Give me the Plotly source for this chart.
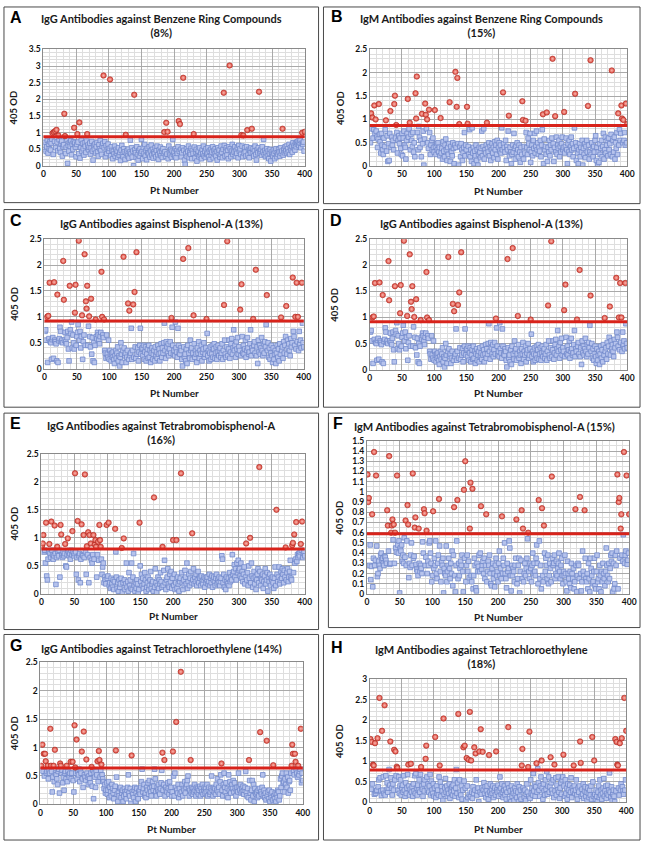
import plotly.graph_objects as go


def od(s):
    return [int(v) / 100 for v in s.split() if v != "|"]


# ---------------- DATA ----------------
panel_letters = ["A", "B", "C", "D", "E", "F", "G", "H"]
panel_titles = [
    "IgG Antibodies against Benzene Ring Compounds<br>(8%)",
    "IgM Antibodies against Benzene Ring Compounds<br>(15%)",
    "IgG Antibodies against Bisphenol-A (13%)",
    "IgG Antibodies against Bisphenol-A (13%)",
    "IgG Antibodies against Tetrabromobisphenol-A<br>(16%)",
    "IgM Antibodies against Tetrabromobisphenol-A (15%)",
    "IgG Antibodies against Tetrachloroethylene (14%)",
    "IgM Antibodies against Tetrachloroethylene<br>(18%)",
]
y_axis_max = [3.5, 2.5, 2.5, 2.5, 2.5, 1.5, 2.5, 3]
y_tick_step = [0.5, 0.5, 0.5, 0.5, 0.5, 0.1, 0.5, 0.5]
y_minor_step = [0.1, 0.1, 0.1, 0.1, 0.1, 0.05, 0.1, 0.1]
cutoff_od = [0.88, 0.87, 0.92, 0.92, 0.80, 0.59, 0.64, 0.79]
x_axis_max = 400
x_tick_step = 50
x_minor_step = 10
x_title = "Pt Number"
y_title = "405 OD"

# patient OD values (1..400), positives listed separately
A_od = od("""
50 62 71 44 58 77 39 66 52 73 | 48 69 81 57 35 63 74 25 55 68 | 72 46 60 79 53 41 67 75 30 58 | 64 49 70 38 56 80 08 62 45 71 | 59 76 34 66 51 73 42 69 57 28
65 48 72 37 61 24 55 78 44 68 | 52 33 70 59 41 75 27 63 49 57 | 69 36 54 74 45 18 62 50 66 39 | 58 71 43 30 64 52 77 47 35 60 | 68 42 55 73 28 61 38 50 66 45
53 40 31 58 47 22 44 36 60 29 | 50 38 45 26 55 33 41 17 48 62 | 35 28 52 43 20 57 39 46 30 51 | 24 42 78 37 55 27 45 01 33 49 | 40 26 58 35 18 47 30 52 39 80
44 22 56 38 65 30 47 19 53 40 | 36 58 27 45 63 33 50 24 42 37 | 55 28 46 60 34 20 48 39 57 31 | 45 26 52 38 81 43 29 55 36 48 | 22 60 40 33 50 27 45 80 35 42
30 52 25 46 38 58 20 44 35 50 | 28 40 55 32 47 18 05 38 52 29 | 44 60 25 41 35 53 22 47 38 30 | 57 24 42 50 15 36 45 28 55 33 | 40 22 48 37 60 30 44 26 52 35
38 55 28 45 20 50 33 42 58 25 | 47 36 52 30 44 18 55 39 48 27 | 35 60 42 25 50 38 62 30 45 55 | 33 48 22 58 40 52 28 45 65 35 | 50 42 58 30 47 38 55 25 62 44
52 35 45 60 28 48 38 55 42 30 | 58 45 33 50 25 47 40 55 12 38 | 52 30 45 60 35 18 48 40 55 28 | 45 38 50 32 58 42 80 35 47 28 | 40 52 30 45 22 38 50 15 42 35
30 48 38 22 45 52 28 40 35 50 | 42 30 55 38 45 62 33 50 40 58 | 45 60 38 52 42 65 35 55 48 60 | 42 70 55 62 48 68 58 72 65 75 | 62 70 78 55 68 80 65 72 45 75
""")
A_pos = [(14, 0.99), (16, 1.02), (18, 1.05), (20, 1.09), (23, 0.92), (32, 1.57), (33, 0.90),
         (47, 1.15), (52, 0.96), (55, 1.31), (67, 0.96), (92, 2.72), (102, 2.60), (126, 0.94),
         (139, 2.14), (185, 1.02), (188, 1.30), (190, 1.03), (207, 1.35), (209, 1.26), (214, 2.65),
         (230, 0.96), (276, 2.20), (285, 3.02), (303, 0.93), (306, 0.92), (312, 1.08), (319, 1.12),
         (330, 2.23), (366, 1.12), (396, 1.00), (400, 1.03)]

B_od = od("""
50 65 80 72 60 78 55 70 45 75 | 62 40 58 30 68 52 28 70 45 35 | 25 60 42 78 55 32 65 10 48 12 | 70 58 40 62 45 55 35 68 50 60 | 42 72 28 55 65 48 60 38 25 70
22 60 75 45 40 15 55 70 38 62 | 80 48 35 68 55 42 72 30 50 20 | 78 60 45 72 35 85 62 40 55 20 | 70 48 75 02 58 65 42 80 22 50 | 38 62 72 25 45 55 35 60 40 30
55 42 25 48 35 50 30 40 22 45 | 28 38 15 52 32 20 45 58 35 12 | 40 25 48 35 10 42 30 22 50 38 | 05 45 28 40 18 35 48 02 30 42 | 20 48 35 12 28 40 72 22 45 35
30 15 42 25 78 20 35 10 82 28 | 40 05 32 22 45 12 35 02 25 40 | 30 18 38 75 22 42 80 15 35 28 | 45 20 38 30 50 22 42 12 35 48 | 28 40 18 52 35 45 25 55 15 40
50 32 45 28 82 35 22 48 40 30 | 55 12 42 35 75 48 22 40 30 05 | 25 45 30 70 38 15 42 28 50 35 | 20 45 30 08 40 25 50 32 15 42 | 28 35 72 40 25 60 48 35 70 08
30 45 22 55 38 70 28 42 75 35 | 50 25 40 32 55 20 45 78 30 05 | 58 35 42 25 62 10 40 30 55 22 | 45 35 60 25 48 10 40 55 30 62 | 25 45 38 55 20 42 30 48 62 35
40 55 28 42 60 35 05 48 30 55 | 25 42 62 35 48 20 38 82 30 50 | 12 42 28 05 35 48 20 40 30 55 | 02 38 25 48 18 42 55 30 22 45 | 15 30 45 25 50 38 20 42 30 55
65 12 40 02 30 08 48 25 38 55 | 20 42 70 15 35 62 28 45 55 22 | 60 35 48 25 68 40 20 55 30 62 | 15 50 38 72 25 60 45 78 55 70 | 42 62 50 68 55 72 45 60 50 68
""")
B_pos = [(2, 1.13), (4, 1.04), (7, 1.30), (9, 1.00), (14, 1.33), (25, 0.98), (32, 1.18), (38, 1.33),
         (39, 1.51), (41, 0.88), (59, 1.44), (62, 0.93), (71, 1.56), (72, 1.02), (73, 1.92), (81, 1.12),
         (86, 1.34), (87, 1.10), (89, 1.00), (92, 1.21), (101, 1.20), (110, 1.03), (124, 1.37),
         (133, 2.02), (135, 1.27), (136, 1.89), (139, 0.90), (151, 1.27), (152, 0.91), (182, 0.93),
         (207, 1.58), (216, 1.08), (237, 1.39), (238, 0.99), (242, 0.97), (269, 1.11), (275, 1.15),
         (284, 2.30), (288, 1.07), (302, 1.16), (319, 1.55), (339, 1.29), (343, 2.27), (376, 2.05),
         (386, 1.13), (391, 1.30), (392, 1.02), (394, 0.99), (398, 1.34), (400, 0.90)]

C_od = od("""
72 75 55 60 12 55 58 68 52 50 | 18 56 60 20 37 55 52 48 15 50 | 12 54 58 80 72 52 55 50 62 58 | 55 70 52 48 60 72 38 15 42 75 | 68 90 40 65 50 38 66 15 45 62
70 85 60 55 72 40 62 28 18 52 | 65 70 45 58 25 55 45 82 48 62 | 42 55 28 60 15 50 12 45 68 62 | 58 70 65 55 48 62 70 72 50 65 | 60 15 35 30 20 65 28 22 55 18
35 28 15 30 22 32 18 10 25 35 | 20 30 42 15 25 05 22 50 28 12 | 35 18 40 25 30 12 22 35 28 18 | 40 25 30 78 18 35 00 22 30 42 | 20 72 28 40 15 32 45 78 28 38
40 25 45 18 32 42 15 28 38 20 | 45 22 35 12 30 40 18 28 35 15 | 42 25 32 20 45 28 38 15 30 48 | 22 40 30 50 88 35 20 52 42 30 | 48 25 38 52 30 22 80 45 28 35
25 90 40 32 22 78 45 30 28 40 | 35 18 05 30 42 22 28 15 38 10 | 45 25 30 20 55 35 40 18 30 58 | 48 22 35 28 12 40 30 52 20 35 | 28 45 15 32 38 50 22 28 40 30
68 25 35 15 30 42 18 28 45 22 | 38 48 20 30 42 18 32 45 25 35 | 40 22 30 48 18 35 62 55 28 22 | 42 30 25 38 55 20 32 48 58 28 | 40 75 35 45 22 52 38 60 28 42
35 48 25 40 62 30 45 28 38 55 | 22 35 60 40 28 32 48 75 25 40 | 35 28 45 52 30 38 25 42 10 55 | 32 45 28 40 60 35 25 48 30 52 | 42 85 28 35 50 22 40 18 30 45
25 12 40 18 28 35 10 30 45 22 | 38 15 48 28 85 35 42 20 52 30 | 45 62 38 28 55 40 48 35 25 58 | 42 50 30 72 62 45 55 38 68 52 | 60 35 72 48 55 40 65 88 50 42
""")
C_pos = [(4, 1.00), (6, 1.02), (8, 1.66), (15, 1.67), (20, 1.43), (29, 2.08), (30, 1.33), (39, 1.60),
         (47, 1.08), (48, 1.62), (53, 2.47), (58, 1.03), (62, 2.21), (64, 1.30), (65, 1.16), (66, 1.60),
         (69, 1.01), (72, 1.35), (79, 0.95), (88, 1.87), (89, 1.00), (92, 0.95), (122, 2.16),
         (129, 1.26), (131, 1.12), (137, 1.24), (139, 1.48), (142, 2.25), (196, 0.98), (214, 2.12),
         (222, 2.33), (230, 1.03), (250, 0.96), (277, 1.23), (282, 2.46), (302, 1.14), (304, 1.63),
         (322, 0.96), (326, 1.91), (343, 1.42), (365, 0.99), (373, 1.21), (383, 1.76), (387, 1.00),
         (389, 1.66), (391, 1.00), (397, 1.66)]

# panel D shows the same Bisphenol-A IgG data as panel C
D_od = C_od
D_pos = C_pos

E_od = od("""
68 72 65 75 78 55 70 32 25 62 | 75 68 72 65 60 78 70 62 68 48 | 72 17 65 70 75 68 78 30 62 72 | 70 65 75 68 72 78 50 48 70 65 | 75 68 72 62 78 70 65 75 68 72
20 75 35 65 70 25 68 72 20 62 | 75 70 68 78 65 72 75 35 62 70 | 68 20 72 65 75 60 55 70 58 62 | 78 75 68 30 70 65 60 25 72 68 | 62 35 48 55 20 30 25 18 22 28
32 22 15 20 10 28 18 12 25 08 | 22 15 75 30 10 20 05 25 12 18 | 28 10 03 20 15 25 08 18 55 12 | 22 05 38 15 25 10 55 08 30 72 | 15 05 20 10 25 18 03 08 12 50
22 35 15 28 10 18 38 25 05 12 | 20 30 08 15 25 40 10 18 22 05 | 28 12 45 20 03 15 30 10 25 18 | 38 22 12 28 15 42 60 20 08 25 | 30 45 18 12 35 22 40 10 28 42
15 35 08 20 25 10 30 18 05 22 | 28 12 38 20 08 25 15 42 30 18 | 55 10 22 35 15 28 40 20 12 25 | 45 18 30 22 35 15 25 40 20 30 | 28 15 32 22 18 25 30 12 28 20
25 30 18 22 35 15 28 20 32 12 | 25 30 22 15 28 35 18 25 20 30 | 15 22 28 68 62 20 35 12 25 08 | 30 22 18 28 15 38 22 30 25 70 | 35 40 52 30 45 25 55 38 60 42
45 32 55 28 40 22 35 48 18 30 | 42 25 38 15 50 28 35 20 55 32 | 12 28 40 18 30 08 25 35 45 20 | 30 40 15 28 25 35 10 22 32 45 | 18 25 38 05 30 22 35 15 28 25
30 20 10 28 48 15 04 35 22 30 | 48 18 25 40 28 45 35 20 42 30 | 55 25 38 45 22 30 40 60 28 25 | 68 45 38 72 55 62 75 58 70 65 | 72 68 75 62 78 70 65 72 75 68
""")
E_pos = [(1, 0.86), (2, 0.90), (3, 1.05), (7, 1.27), (12, 0.89), (15, 1.29), (20, 1.22), (24, 0.84),
         (29, 1.23), (30, 1.06), (36, 0.89), (40, 0.99), (47, 1.12), (51, 2.15), (55, 1.30), (61, 1.24),
         (64, 1.05), (66, 2.13), (69, 0.85), (71, 1.10), (73, 1.05), (75, 0.90), (79, 1.05), (81, 0.88),
         (82, 0.96), (83, 0.84), (86, 0.93), (88, 1.23), (89, 0.96), (90, 0.84), (99, 1.23), (102, 1.27),
         (112, 1.16), (122, 0.82), (125, 0.99), (149, 1.27), (171, 1.72), (184, 0.84), (200, 0.96),
         (205, 0.96), (212, 2.15), (229, 1.08), (311, 0.90), (317, 1.00), (331, 2.26), (357, 1.50),
         (371, 0.83), (381, 0.87), (382, 0.91), (384, 1.06), (387, 1.28), (394, 0.89), (396, 1.29)]

F_od = od("""
35 30 58 28 48 14 27 30 07 35 | 30 28 33 32 47 17 20 32 28 25 | 38 40 33 35 30 28 37 36 33 30 | 54 35 42 02 29 30 18 40 22 53 | 22 30 40 45 41 28 48 40 52 01
45 42 48 32 38 30 55 36 07 28 | 52 28 35 16 30 26 38 50 28 32 | 35 37 33 26 29 24 22 18 51 30 | 22 28 25 20 51 40 45 30 28 36 | 38 20 32 28 50 52 40 30 12 18
30 25 35 28 52 20 15 30 38 25 | 47 22 12 32 28 35 01 25 20 18 | 47 12 22 28 35 25 15 30 20 42 | 08 38 22 18 02 28 52 35 15 30 | 18 25 32 28 38 22 02 15 35 25
12 28 38 22 32 16 20 30 18 12 | 25 05 18 35 28 06 03 30 22 27 | 38 22 40 18 24 28 32 20 35 15 | 28 45 12 22 32 28 38 20 10 08 | 25 30 15 20 07 28 35 18 22 12
30 42 18 25 15 48 20 35 28 50 | 20 15 06 30 22 25 52 45 18 03 | 28 18 25 22 12 28 35 30 10 15 | 28 35 01 22 33 18 15 52 12 20 | 30 18 25 35 54 28 22 15 30 25
12 28 40 20 30 22 18 35 48 30 | 10 22 52 15 28 05 35 18 12 30 | 40 22 35 28 15 38 10 18 30 25 | 12 22 35 28 30 38 15 20 32 18 | 25 30 40 22 15 28 35 18 10 22
18 38 20 12 03 32 20 15 10 22 | 06 30 20 15 25 05 12 20 28 02 | 18 30 28 15 25 20 03 12 42 22 | 18 08 35 15 12 20 05 30 15 02 | 35 25 18 10 12 22 35 08 05 22
38 12 15 05 28 18 02 22 12 30 | 20 15 08 22 45 28 18 12 30 15 | 25 38 32 40 02 30 05 10 38 28 | 42 35 05 30 22 35 15 40 38 32 | 58 48 30 38 42 35 29 33 40 47
""")
F_pos = [(1, 1.17), (2, 0.90), (3, 0.94), (8, 0.78), (11, 1.39), (14, 1.16), (31, 0.82), (32, 0.67),
         (34, 1.35), (37, 0.60), (38, 0.67), (39, 0.73), (41, 0.68), (43, 0.60), (46, 1.16), (59, 0.72),
         (62, 0.87), (63, 0.68), (70, 1.18), (73, 0.65), (74, 0.75), (79, 0.64), (87, 0.83), (88, 0.79),
         (91, 0.62), (101, 0.81), (110, 0.93), (133, 0.85), (138, 0.92), (148, 1.02), (150, 1.30),
         (157, 0.64), (158, 1.09), (161, 1.03), (174, 0.86), (182, 0.78), (206, 0.76), (228, 0.73),
         (236, 0.82), (238, 0.64), (246, 0.60), (262, 0.92), (267, 0.84), (270, 0.67), (282, 1.15),
         (318, 0.83), (325, 0.95), (332, 0.82), (382, 1.17), (384, 0.90), (385, 0.94), (387, 0.64),
         (388, 0.78), (392, 1.39), (396, 1.16), (400, 0.78)]

G_od = od("""
62 60 55 58 62 50 40 38 55 58 | 62 45 60 55 15 42 58 22 48 60 | 40 03 55 52 45 35 58 62 20 50 | 42 55 60 38 48 25 55 58 45 62 | 40 58 52 48 55 62 45 55 50 42
22 50 60 55 48 45 58 52 62 40 | 60 55 20 45 30 58 52 48 42 62 | 55 48 35 50 45 38 55 42 32 60 | 10 55 48 30 58 52 45 40 62 55 | 48 60 50 52 45 40 28 35 20 25
38 18 25 40 12 30 22 15 35 28 | 20 10 25 32 08 48 18 05 22 15 | 28 30 12 20 25 05 15 28 22 18 | 10 25 30 52 20 15 28 02 25 22 | 18 12 25 30 05 20 28 15 10 22
25 18 30 40 62 22 28 35 15 20 | 12 30 25 38 18 42 28 22 15 30 | 40 25 32 62 45 22 15 30 25 35 | 22 18 28 38 60 28 25 35 20 15 | 30 25 22 38 28 18 40 25 30 15
22 32 50 15 55 30 40 25 20 35 | 12 28 18 30 22 35 15 28 25 40 | 20 30 35 42 50 28 15 25 35 20 | 30 18 28 22 35 25 15 30 22 28 | 18 25 32 15 28 22 35 18 25 30
20 28 22 35 15 25 30 18 22 28 | 50 25 15 30 22 28 18 35 25 45 | 22 30 18 40 52 28 25 15 35 55 | 30 22 38 15 28 12 52 25 40 20 | 30 35 28 42 22 38 28 15 25 30
22 55 30 25 35 20 28 22 32 18 | 25 30 58 22 15 28 12 35 42 20 | 08 25 42 15 35 05 28 20 18 22 | 12 25 15 28 08 22 18 30 52 15 | 25 12 20 08 28 15 22 10 25 05
18 12 22 08 25 15 10 20 05 18 | 12 25 22 08 15 45 30 50 55 38 | 40 22 45 35 55 30 48 20 40 42 | 25 55 38 60 45 58 52 50 45 62 | 55 48 40 52 58 62 45 38 55 42
""")
G_pos = [(1, 0.68), (3, 1.05), (5, 0.89), (7, 0.89), (8, 0.76), (11, 0.68), (15, 1.33), (16, 0.68),
         (20, 0.68), (22, 0.96), (30, 0.72), (31, 0.68), (40, 0.68), (46, 0.75), (49, 0.75), (52, 1.39),
         (53, 0.65), (55, 1.14), (63, 0.93), (66, 1.28), (70, 0.79), (78, 0.66), (87, 0.76), (89, 0.94),
         (90, 0.78), (93, 0.70), (115, 0.95), (139, 0.86), (186, 0.91), (189, 0.78), (202, 0.93),
         (207, 1.45), (214, 2.33), (229, 0.78), (276, 0.72), (318, 0.78), (335, 1.27), (345, 1.12),
         (355, 0.69), (383, 0.68), (384, 1.05), (385, 0.89), (388, 0.89), (389, 0.75), (393, 0.68),
         (397, 1.33)]

H_od = od("""
35 32 30 45 40 25 20 35 22 28 | 30 15 38 55 25 60 28 17 38 30 | 62 22 40 18 65 30 48 25 35 80 | 42 22 60 35 18 45 30 15 55 28 | 65 38 12 30 62 22 40 55 18 35
42 25 65 30 15 48 22 35 68 28 | 40 18 32 55 25 38 15 45 28 65 | 22 70 35 18 42 30 55 25 68 20 | 40 32 15 45 28 55 38 20 62 30 | 45 25 40 68 18 52 30 22 45 15
35 28 12 40 22 30 18 62 25 50 | 15 38 28 05 45 20 35 58 25 40 | 15 30 22 45 10 32 25 38 18 42 | 28 55 15 35 80 22 48 30 12 55 | 25 18 40 08 30 15 52 22 35 05
28 40 12 35 20 50 15 82 25 10 | 38 22 45 30 05 55 18 28 35 02 | 42 25 60 20 35 15 30 48 22 38 | 12 28 40 20 08 35 25 45 18 30 | 22 40 12 28 35 18 08 30 25 42
15 28 62 35 20 45 25 12 30 40 | 18 32 08 25 45 20 35 10 28 02 | 40 15 30 22 05 35 18 28 12 45 | 25 02 38 15 30 08 42 20 35 28 | 12 30 05 20 45 25 38 15 28 10
55 22 35 18 70 28 42 15 38 60 | 25 82 48 30 15 40 62 22 35 08 | 45 28 18 55 32 75 20 40 62 25 | 38 15 48 30 22 55 12 40 28 60 | 18 42 30 62 25 10 35 48 20 55
62 28 40 15 55 22 35 08 45 30 | 18 42 25 60 12 35 28 05 40 22 | 30 55 18 08 35 25 40 02 28 15 | 32 20 45 10 28 38 15 25 05 35 | 22 12 30 18 40 08 25 50 15 28
20 08 30 15 02 25 40 12 55 18 | 30 08 22 35 58 15 28 40 10 22 | 42 18 30 72 25 12 38 05 20 30 | 15 02 35 28 12 40 22 35 18 48 | 30 45 22 38 28 20 42 30 55 58
""")
H_pos = [(1, 1.54), (3, 1.47), (5, 0.92), (6, 0.90), (8, 1.44), (12, 1.56), (15, 2.54), (19, 1.74),
         (23, 2.36), (32, 1.48), (38, 1.28), (40, 1.24), (42, 0.87), (43, 0.84), (60, 0.92), (64, 0.94),
         (80, 0.86), (87, 1.06), (88, 1.38), (102, 1.59), (109, 0.90), (115, 2.04), (138, 2.15),
         (146, 1.34), (148, 1.38), (151, 1.08), (154, 1.04), (156, 2.20), (158, 1.02), (163, 1.34),
         (165, 1.19), (171, 1.24), (173, 1.78), (176, 1.23), (186, 1.15), (197, 1.24), (216, 1.83),
         (237, 0.90), (238, 1.30), (247, 0.86), (249, 1.72), (260, 0.95), (268, 1.02), (282, 1.10),
         (288, 0.92), (302, 1.16), (318, 0.90), (328, 1.48), (329, 0.96), (347, 1.59), (350, 1.02),
         (383, 1.54), (385, 1.47), (386, 0.92), (387, 0.90), (390, 1.44), (393, 1.56), (397, 2.54),
         (400, 1.74)]

all_od = [A_od, B_od, C_od, D_od, E_od, F_od, G_od, H_od]
all_pos = [A_pos, B_pos, C_pos, D_pos, E_pos, F_pos, G_pos, H_pos]

# ---------------- LAYOUT (pixels) ----------------
W, H = 649, 847
geo = [
    dict(box=(2, 2, 321, 200), plot=(42, 45, 307, 163), ty=21, let=(6, 13), yl=12, xl=187),
    dict(box=(326, 2, 647, 201), plot=(373, 45, 634, 163), ty=21, let=(332, 12), yl=344, xl=188),
    dict(box=(2, 207, 321, 407), plot=(43, 237, 306, 368), ty=221, let=(6, 218), yl=13, xl=393),
    dict(box=(326, 207, 647, 407), plot=(373, 237, 634, 369), ty=221, let=(331, 218), yl=337, xl=393),
    dict(box=(2, 413, 321, 632), plot=(40, 454, 307, 596), ty=433, let=(6, 423), yl=13, xl=618),
    dict(box=(331, 413, 647, 630), plot=(370, 441, 636, 596), ty=427, let=(334, 423), yl=342, xl=619),
    dict(box=(2, 637, 321, 845), plot=(39, 665, 305, 809), ty=651, let=(6, 648), yl=12, xl=834),
    dict(box=(326, 637, 647, 845), plot=(373, 682, 633, 807), ty=659, let=(332, 650), yl=342, xl=834),
]

FONT = "Lato"
BLUE_FILL, BLUE_EDGE = "#b6c3ec", "#7189cb"
RED_FILL, RED_EDGE, RED_HI = "#e0463b", "#a92920", "#f7b9b1"
CUT_COLOR = "#d8231b"

fig = go.Figure()
layout = dict(width=W, height=H, margin=dict(l=0, r=0, t=0, b=0),
              paper_bgcolor="white", plot_bgcolor="white", showlegend=False)
shapes, annotations = [], []

for i in range(8):
    g = geo[i]
    sfx = "" if i == 0 else str(i + 1)
    xa, ya = "x" + sfx, "y" + sfx
    pos = dict(all_pos[i])
    vals = all_od[i]
    bx = [p for p in range(1, x_axis_max + 1) if p not in pos and p - 1 < len(vals)]
    by = [vals[p - 1] for p in bx]
    rx = sorted(pos)
    ry = [pos[p] for p in rx]

    fig.add_trace(go.Scatter(
        x=bx, y=by, xaxis=xa, yaxis=ya, mode="markers", hoverinfo="skip",
        marker=dict(symbol="square", size=4.6, color=BLUE_FILL,
                    line=dict(color=BLUE_EDGE, width=0.8))))
    fig.add_trace(go.Scatter(
        x=rx, y=ry, xaxis=xa, yaxis=ya, mode="markers", hoverinfo="skip",
        marker=dict(symbol="circle", size=5.5, color=RED_FILL,
                    gradient=dict(type="radial", color=RED_HI),
                    line=dict(color=RED_EDGE, width=0.6))))

    px0, py0, px1, py1 = g["plot"]
    tickfont = dict(family=FONT, size=8.5, color="#111", weight="bold")
    layout["xaxis" + sfx] = dict(
        domain=[px0 / W, px1 / W], anchor=ya, range=[0, x_axis_max],
        tick0=0, dtick=x_tick_step, showgrid=True, gridcolor="#a9a9a9", gridwidth=1,
        minor=dict(dtick=x_minor_step, tick0=0, showgrid=True, gridcolor="#dedede", gridwidth=1),
        showline=True, linecolor="#8a8a8a", linewidth=1, mirror=True, ticks="",
        zeroline=False, tickfont=tickfont, fixedrange=True)
    layout["yaxis" + sfx] = dict(
        domain=[1 - py1 / H, 1 - py0 / H], anchor=xa, range=[0, y_axis_max[i]],
        tick0=0, dtick=y_tick_step[i], showgrid=True, gridcolor="#a9a9a9", gridwidth=1,
        minor=dict(dtick=y_minor_step[i], tick0=0, showgrid=True, gridcolor="#dedede", gridwidth=1),
        showline=True, linecolor="#8a8a8a", linewidth=1, mirror=True, ticks="",
        zeroline=False, tickfont=tickfont, fixedrange=True)

    shapes.append(dict(type="line", xref=xa + " domain", yref=ya, x0=0, x1=1,
                       y0=cutoff_od[i], y1=cutoff_od[i],
                       line=dict(color=CUT_COLOR, width=3), layer="above"))
    bx0, by0, bx1, by1 = g["box"]
    shapes.append(dict(type="rect", xref="paper", yref="paper",
                       x0=bx0 / W, x1=bx1 / W, y0=1 - by1 / H, y1=1 - by0 / H,
                       line=dict(color="#4a4a4a", width=1), fillcolor="rgba(0,0,0,0)"))
    annotations.append(dict(xref="paper", yref="paper", x=(bx0 + bx1) / 2 / W,
                            y=1 - g["ty"] / H, text="<b>" + panel_titles[i] + "</b>",
                            showarrow=False, xanchor="center", yanchor="middle",
                            font=dict(family=FONT, size=11, color="#1a1a1a")))
    lx, ly = g["let"]
    annotations.append(dict(xref="paper", yref="paper", x=lx / W, y=1 - ly / H,
                            text="<b>" + panel_letters[i] + "</b>", showarrow=False,
                            xanchor="left", yanchor="middle",
                            font=dict(family="Liberation Sans", size=16, color="#000")))
    annotations.append(dict(xref="paper", yref="paper", x=g["yl"] / W,
                            y=1 - (py0 + py1) / 2 / H, text="<b>" + y_title + "</b>",
                            showarrow=False, textangle=-90, xanchor="center", yanchor="middle",
                            font=dict(family=FONT, size=9.5, color="#1a1a1a")))
    annotations.append(dict(xref="paper", yref="paper", x=(px0 + px1) / 2 / W,
                            y=1 - g["xl"] / H, text="<b>" + x_title + "</b>",
                            showarrow=False, xanchor="center", yanchor="middle",
                            font=dict(family=FONT, size=10, color="#1a1a1a")))

layout["shapes"] = shapes
layout["annotations"] = annotations
fig.update_layout(**layout)
fig.write_html("out.html", config={"displayModeBar": False},
               post_script="document.body.style.margin='0';document.body.style.overflow='hidden';")
